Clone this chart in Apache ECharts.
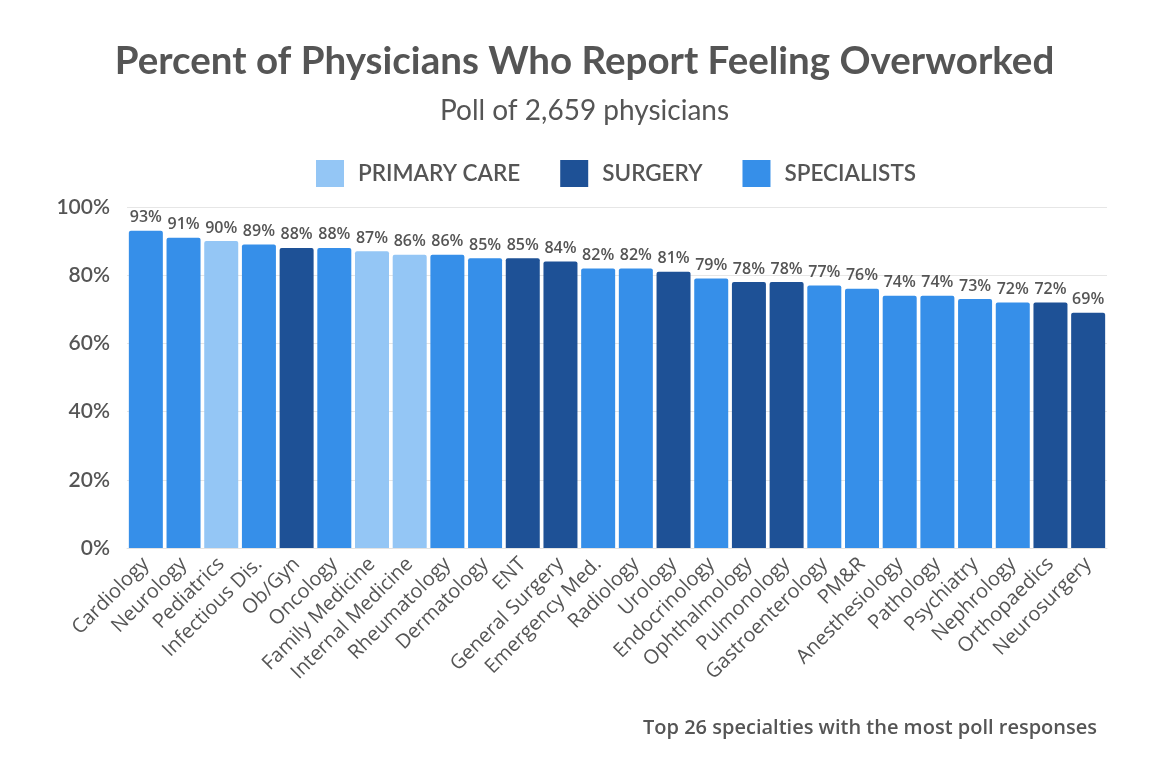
<!DOCTYPE html>
<html><head><meta charset="utf-8">
<script src="https://cdn.jsdelivr.net/npm/echarts@6/dist/echarts.min.js"></script>
<style>html,body{margin:0;padding:0;background:#fff}#c{width:1169px;height:757px}</style>
</head><body><div id="c"></div>
<script>
const categories = ["Cardiology","Neurology","Pediatrics","Infectious Dis.","Ob/Gyn","Oncology","Family Medicine","Internal Medicine","Rheumatology","Dermatology","ENT","General Surgery","Emergency Med.","Radiology","Urology","Endocrinology","Ophthalmology","Pulmonology","Gastroenterology","PM&R","Anesthesiology","Pathology","Psychiatry","Nephrology","Orthopaedics","Neurosurgery"];
const values = [93,91,90,89,88,88,87,86,86,85,85,84,82,82,81,79,78,78,77,76,74,74,73,72,72,69];
const groups = ["S","S","P","S","G","S","P","P","S","S","G","G","S","S","G","S","G","G","S","S","S","S","S","S","G","G"];
const groupNames = {P:"PRIMARY CARE", G:"SURGERY", S:"SPECIALISTS"};
const groupColors = {P:"#94c6f5", G:"#1e5196", S:"#368fe9"};
const yTicks = [0,20,40,60,80,100];

const FONT = "Lato";
const FONT2 = "Open Sans";
const series = ["P","G","S"].map(g => ({
  name: groupNames[g],
  type: "bar",
  stack: "all",
  barWidth: 34,
  data: values.map((v,i) => groups[i] === g ? v : "-"),
  itemStyle: {color: groupColors[g], borderRadius: [2,2,0,0]},
  label: {show: true, position: "top", formatter: "{c}%", color: "#555", fontSize: 16, fontWeight: 600, fontFamily: FONT2, distance: 5}
}));

const chart = echarts.init(document.getElementById("c"), null, {renderer: "canvas"});
chart.setOption({
  animation: false,
  backgroundColor: "#fff",
  title: [
    {text: "Percent of Physicians Who Report Feeling Overworked", left: "center", top: 37,
     textStyle: {fontFamily: FONT, fontSize: 38.5, fontWeight: "bold", color: "#555"}},
    {text: "Poll of 2,659 physicians", left: "center", top: 92,
     textStyle: {fontFamily: FONT, fontSize: 28, fontWeight: "normal", color: "#555"}},
    {text: "Top 26 specialties with the most poll responses", right: 67, top: 713,
     textStyle: {fontFamily: FONT2, fontSize: 20, fontWeight: 600, color: "#555"}}
  ],
  legend: {
    top: 155, left: 311, itemWidth: 28, itemHeight: 27, itemGap: 40,
    icon: "rect",
    textStyle: {fontFamily: FONT, fontSize: 22.5, fontWeight: 600, color: "#555", padding: [0,0,0,9]},
    data: ["PRIMARY CARE","SURGERY","SPECIALISTS"]
  },
  grid: {left: 127, right: 62, top: 207, bottom: 209, containLabel: false},
  xAxis: {
    type: "category", data: categories,
    axisTick: {show: false},
    axisLine: {show: true, lineStyle: {color: "#e3e3e3"}},
    axisLabel: {rotate: 45, interval: 0, fontFamily: FONT2, fontSize: 20, fontWeight: 500, color: "#555", margin: 13}
  },
  yAxis: {
    type: "value", min: 0, max: 100, interval: 20,
    axisLabel: {formatter: v => yTicks.includes(v) ? v + "%" : "", fontFamily: FONT, fontSize: 21, fontWeight: 600, color: "#555", margin: 17},
    splitLine: {lineStyle: {color: "#e6e6e6", width: 1}},
    axisLine: {show: false}, axisTick: {show: false}
  },
  series: series
});
</script>
</body></html>
